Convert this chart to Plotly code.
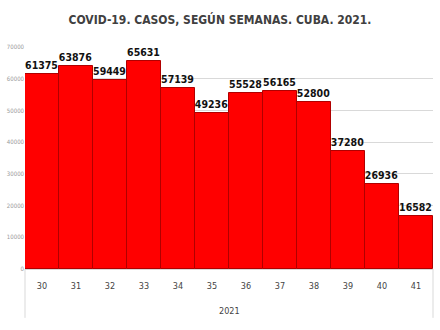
import plotly.graph_objects as go

weeks = ["30", "31", "32", "33", "34", "35", "36", "37", "38", "39", "40", "41"]
cases = [61375, 63876, 59449, 65631, 57139, 49236, 55528, 56165, 52800, 37280, 26936, 16582]
y_ticks = [0, 10000, 20000, 30000, 40000, 50000, 60000, 70000]
title = "COVID-19. CASOS, SEGÚN SEMANAS. CUBA. 2021."
year_label = "2021"

COND = "DejaVu Sans Condensed, Liberation Sans Narrow, Arial Narrow, sans-serif"

fig = go.Figure()
fig.add_trace(go.Bar(
    x=weeks, y=cases,
    marker=dict(color="#ff0000", line=dict(color="#b00000", width=1)),
    text=["<b>" + str(v) + "</b>" for v in cases], textposition="outside",
    textfont=dict(family=COND, size=10.5, color="#111111"),
    cliponaxis=False,
))
fig.update_layout(
    width=440, height=330,
    margin=dict(l=23, r=7, t=47, b=61),
    paper_bgcolor="white", plot_bgcolor="white",
    bargap=0,
    showlegend=False,
    title=dict(text="<b>" + title + "</b>", x=0.5, xanchor="center", y=0.94, yanchor="middle",
               font=dict(family=COND, size=12, color="#404040")),
    font=dict(family=COND),
)
fig.update_yaxes(range=[0, 70000], tickvals=y_ticks, ticktext=[str(v) for v in y_ticks],
                 showgrid=True, gridcolor="#d9d9d9", gridwidth=1, zeroline=False,
                 tickfont=dict(size=6, color="#999999"), ticks="", showline=False)
fig.update_xaxes(tickfont=dict(size=9, color="#444444"), showline=True, linecolor="#d9d9d9",
                 ticks="", ticklabelstandoff=8)
fig.add_annotation(text=year_label, xref="paper", yref="paper", x=0.5, y=-0.19,
                   showarrow=False, font=dict(size=9, color="#444444"), yanchor="middle")
for xp in [0, 1]:
    fig.add_shape(type="line", xref="paper", yref="paper", x0=xp, x1=xp, y0=0, y1=-0.22,
                  line=dict(color="#d9d9d9", width=1))
fig.write_html("out.html")
